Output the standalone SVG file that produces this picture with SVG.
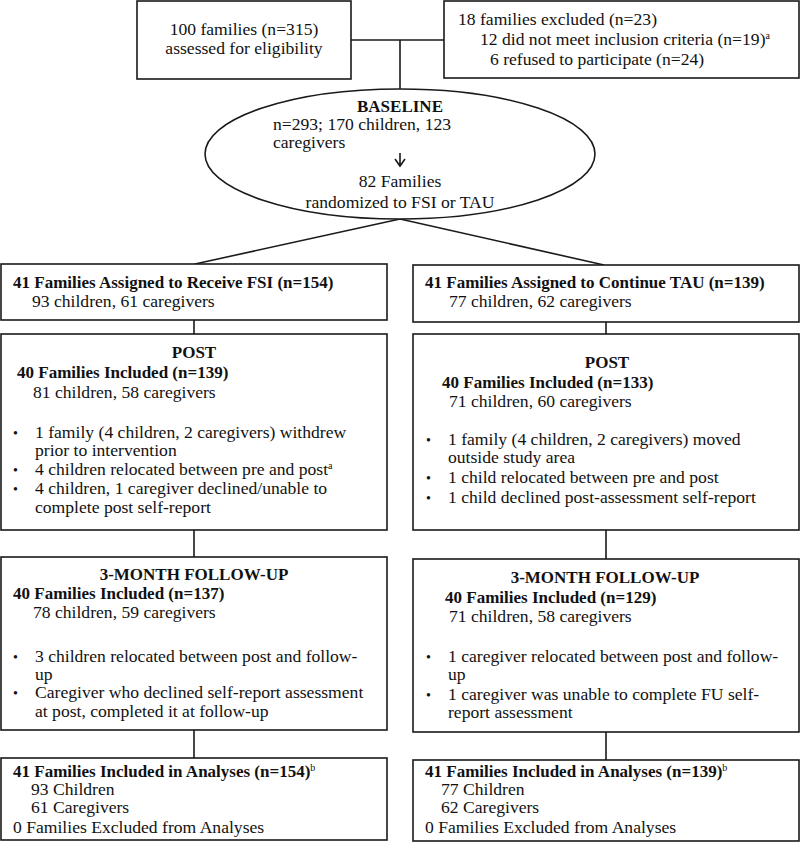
<svg xmlns="http://www.w3.org/2000/svg" width="800" height="844" viewBox="0 0 800 844">
<style>
.box{fill:#fff;stroke:#1a1a1a;stroke-width:1.6}
.ln{stroke:#1a1a1a;stroke-width:1.6;fill:none}
text{font-family:"Liberation Serif","DejaVu Serif",serif;font-size:17.6px;fill:#111}
.b{font-weight:bold;font-size:17px}
.c{text-anchor:middle}
.sup{font-size:10px;font-weight:normal}
.bul{font-size:14px}
</style>
<g id="connectors">
<path class="ln" d="M351,40 H444 M400,40 V89"/>
<path class="ln" d="M400,219 L195,264 M400,219 L604,265"/>
<path class="ln" d="M194,320 V334 M606,322 V334"/>
<path class="ln" d="M194,530 V557 M606,530 V559"/>
<path class="ln" d="M194,730 V758 M606,732 V760"/>
</g>
<g id="assessed">
<rect class="box" x="137" y="1" width="214" height="78"/>
<text class="c" x="244" y="35">100 families (n=315)</text>
<text class="c" x="244" y="54">assessed for eligibility</text>
</g>
<g id="excluded">
<rect class="box" x="444" y="1" width="355" height="77"/>
<text x="458" y="25">18 families excluded (n=23)</text>
<text x="480" y="45">12 did not meet inclusion criteria (n=19)<tspan class="sup" dy="-6">a</tspan></text>
<text x="490" y="65">6 refused to participate (n=24)</text>
</g>
<g id="baseline">
<ellipse class="box" cx="400" cy="154" rx="195" ry="65"/>
<text class="b c" x="400" y="112">BASELINE</text>
<text x="273" y="130">n=293; 170 children, 123</text>
<text x="273" y="148">caregivers</text>
<path class="ln" d="M400,153 V166 M395,159 L400,166 L405,159" stroke-width="1.4"/>
<text class="c" x="400" y="187">82 Families</text>
<text class="c" x="400" y="208">randomized to FSI or TAU</text>
</g>
<g id="fsi-assigned">
<rect class="box" x="1" y="264" width="386" height="56"/>
<text class="b" x="13" y="288">41 Families Assigned to Receive FSI (n=154)</text>
<text x="32" y="307">93 children, 61 caregivers</text>
</g>
<g id="tau-assigned">
<rect class="box" x="413" y="265" width="386" height="57"/>
<text class="b" x="425" y="288">41 Families Assigned to Continue TAU (n=139)</text>
<text x="449" y="307">77 children, 62 caregivers</text>
</g>
<g id="fsi-post">
<rect class="box" x="1" y="334" width="386" height="196"/>
<text class="b c" x="194" y="358">POST</text>
<text class="b" x="17" y="378">40 Families Included (n=139)</text>
<text x="33" y="398">81 children, 58 caregivers</text>
<text class="bul" x="13" y="438">•</text>
<text x="35" y="438">1 family (4 children, 2 caregivers) withdrew</text>
<text x="35" y="456">prior to intervention</text>
<text class="bul" x="13" y="475">•</text>
<text x="35" y="475">4 children relocated between pre and post<tspan class="sup" dy="-6">a</tspan></text>
<text class="bul" x="13" y="494">•</text>
<text x="35" y="494">4 children, 1 caregiver declined/unable to</text>
<text x="35" y="513">complete post self-report</text>
</g>
<g id="tau-post">
<rect class="box" x="413" y="334" width="386" height="196"/>
<text class="b c" x="607" y="368">POST</text>
<text class="b" x="442" y="388">40 Families Included (n=133)</text>
<text x="449" y="407">71 children, 60 caregivers</text>
<text class="bul" x="426" y="445">•</text>
<text x="448" y="445">1 family (4 children, 2 caregivers) moved</text>
<text x="448" y="463">outside study area</text>
<text class="bul" x="426" y="483">•</text>
<text x="448" y="483">1 child relocated between pre and post</text>
<text class="bul" x="426" y="503">•</text>
<text x="448" y="503">1 child declined post-assessment self-report</text>
</g>
<g id="fsi-fu">
<rect class="box" x="1" y="557" width="386" height="173"/>
<text class="b c" x="194" y="580">3-MONTH FOLLOW-UP</text>
<text class="b" x="13" y="599">40 Families Included (n=137)</text>
<text x="33" y="618">78 children, 59 caregivers</text>
<text class="bul" x="13" y="662">•</text>
<text x="35" y="662">3 children relocated between post and follow-</text>
<text x="35" y="680">up</text>
<text class="bul" x="13" y="698">•</text>
<text x="35" y="698">Caregiver who declined self-report assessment</text>
<text x="35" y="717">at post, completed it at follow-up</text>
</g>
<g id="tau-fu">
<rect class="box" x="413" y="559" width="386" height="173"/>
<text class="b c" x="605" y="583">3-MONTH FOLLOW-UP</text>
<text class="b" x="445" y="603">40 Families Included (n=129)</text>
<text x="449" y="622">71 children, 58 caregivers</text>
<text class="bul" x="426" y="662">•</text>
<text x="448" y="662">1 caregiver relocated between post and follow-</text>
<text x="448" y="680">up</text>
<text class="bul" x="426" y="700">•</text>
<text x="448" y="700">1 caregiver was unable to complete FU self-</text>
<text x="448" y="718">report assessment</text>
</g>
<g id="fsi-analyses">
<rect class="box" x="1" y="758" width="386" height="82"/>
<text class="b" x="13" y="777">41 Families Included in Analyses (n=154)<tspan class="sup" dy="-6">b</tspan></text>
<text x="31" y="795">93 Children</text>
<text x="31" y="813">61 Caregivers</text>
<text x="13" y="833">0 Families Excluded from Analyses</text>
</g>
<g id="tau-analyses">
<rect class="box" x="413" y="760" width="386" height="81"/>
<text class="b" x="425" y="777">41 Families Included in Analyses (n=139)<tspan class="sup" dy="-6">b</tspan></text>
<text x="441" y="795">77 Children</text>
<text x="441" y="813">62 Caregivers</text>
<text x="425" y="833">0 Families Excluded from Analyses</text>
</g>
</svg>
